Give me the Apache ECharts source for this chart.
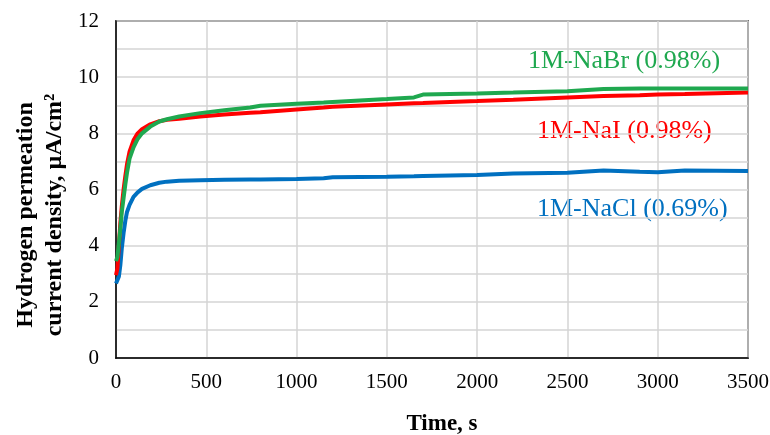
<!DOCTYPE html>
<html>
<head>
<meta charset="utf-8">
<script src="https://cdn.jsdelivr.net/npm/echarts@6/dist/echarts.min.js"></script>
<style>
  html, body { margin: 0; padding: 0; background: #fff; }
  #chart { width: 770px; height: 435px; }
</style>
</head>
<body>
<div id="chart"></div>
<script>
// time in s (shared by the three curves)
const times = [0, 8, 16, 24, 32, 42, 52, 61, 75, 97, 120, 144, 190, 240, 282, 350, 467, 600, 743, 800,
  1000, 1150, 1200, 1500, 1650, 1700, 2000, 2200, 2500, 2700, 2900, 3000, 3150, 3500];

// current density, uA/cm2
const naCl = [2.65, 2.6, 2.9, 3.3, 3.9, 4.45, 4.9, 5.2, 5.45, 5.74, 5.9, 6.02, 6.15, 6.24, 6.28, 6.31, 6.33, 6.35, 6.36, 6.36,
  6.37, 6.4, 6.44, 6.45, 6.47, 6.48, 6.52, 6.57, 6.6, 6.68, 6.63, 6.61, 6.68, 6.66];
const naI = [2.95, 3.2, 4.0, 4.8, 5.4, 6.0, 6.5, 6.9, 7.35, 7.75, 8.0, 8.15, 8.32, 8.43, 8.48, 8.52, 8.6, 8.67, 8.73, 8.75,
  8.85, 8.92, 8.95, 9.03, 9.07, 9.08, 9.15, 9.2, 9.28, 9.33, 9.36, 9.38, 9.4, 9.45];
const naBr = [3.45, 3.6, 4.1, 4.6, 5.2, 5.7, 6.2, 6.6, 7.1, 7.5, 7.8, 8.0, 8.24, 8.42, 8.5, 8.6, 8.72, 8.82, 8.92, 8.98,
  9.05, 9.1, 9.12, 9.22, 9.28, 9.38, 9.42, 9.45, 9.5, 9.58, 9.6, 9.6, 9.6, 9.6];

const seriesNames = ['1M-NaCl (0.69%)', '1M-NaI (0.98%)', '1M-NaBr (0.98%)'];
const colors = ['#0070c0', '#ff0000', '#1fa84f'];

const serif = '"Liberation Serif", "Times New Roman", serif';

const pair = (vals) => times.map((t, i) => [t, vals[i]]);

const chart = echarts.init(document.getElementById('chart'));

const option = {
  animation: false,
  backgroundColor: '#fff',
  grid: {
    left: 116, right: 22, top: 21, bottom: 77,
    outerBoundsMode: 'none',
    containLabel: false,
    show: true, borderColor: '#000', borderWidth: 1.5
  },
  xAxis: {
    type: 'value',
    min: 0, max: 3500, interval: 500,
    name: 'Time, s',
    nameLocation: 'middle',
    nameGap: 55,
    nameTextStyle: { fontFamily: serif, fontSize: 23, fontWeight: 'bold', color: '#000', padding: [0, 0, 0, 20] },
    axisLine: { lineStyle: { color: '#000', width: 1.5 } },
    axisTick: { show: false },
    axisLabel: { fontFamily: serif, fontSize: 21, color: '#000', margin: 14, formatter: (v) => String(v) },
    splitLine: { lineStyle: { color: '#d4d4d4', width: 1.5 } }
  },
  yAxis: {
    type: 'value',
    min: 0, max: 12, interval: 1,
    axisLine: { show: true, lineStyle: { color: '#000', width: 1.5 } },
    axisTick: { show: false },
    axisLabel: {
      fontFamily: serif, fontSize: 21, color: '#000', margin: 17,
      formatter: (v) => (v % 2 === 0 ? String(v) : '')
    },
    splitLine: { lineStyle: { color: '#d4d4d4', width: 1.5 } }
  },
  graphic: [
    {
      type: 'text', x: 40, y: 215, rotation: Math.PI / 2,
      style: {
        text: 'Hydrogen permeation\ncurrent density, µA/cm²',
        font: 'bold 24px ' + serif, fill: '#000',
        align: 'center', verticalAlign: 'middle', lineHeight: 29
      }
    },
    {
      type: 'text', x: 528, y: 61,
      style: { text: seriesNames[2], font: '26px ' + serif, fill: colors[2], align: 'left', verticalAlign: 'middle' }
    },
    {
      type: 'text', x: 537, y: 131,
      style: { text: seriesNames[1], font: '26px ' + serif, fill: colors[1], align: 'left', verticalAlign: 'middle' }
    },
    {
      type: 'text', x: 537, y: 209,
      style: { text: seriesNames[0], font: '26px ' + serif, fill: colors[0], align: 'left', verticalAlign: 'middle' }
    }
  ],
  series: [naCl, naI, naBr].map((vals, i) => ({
    name: seriesNames[i],
    type: 'line',
    data: pair(vals),
    showSymbol: false,
    symbol: 'none',
    lineStyle: { color: colors[i], width: 4 },
    itemStyle: { color: colors[i] }
  }))
};

chart.setOption(option);
</script>
</body>
</html>
